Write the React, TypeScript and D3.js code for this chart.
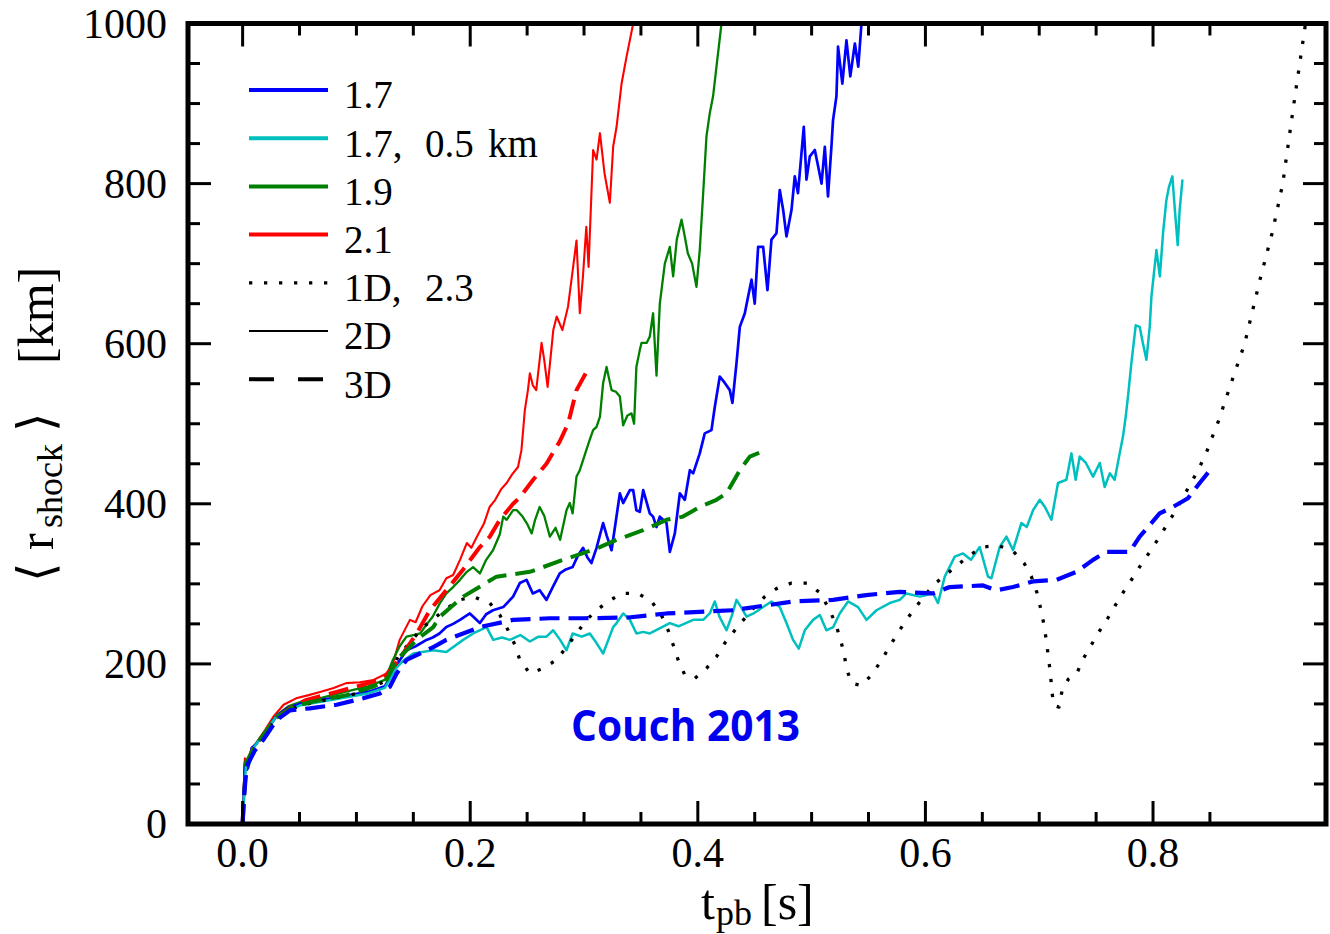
import React from 'react';
import * as d3 from 'd3';

type P = [number, number];

// ---------- axis ticks ----------
const xTicksMajor = [0, 0.2, 0.4, 0.6, 0.8];
const xTickLabels = ['0.0', '0.2', '0.4', '0.6', '0.8'];
const xTicksMinor = [0.05, 0.1, 0.15, 0.25, 0.3, 0.35, 0.45, 0.5, 0.55, 0.65, 0.7, 0.75, 0.85];
const yTicksMajor = [0, 200, 400, 600, 800, 1000];
const yTickLabels = ['0', '200', '400', '600', '800', '1000'];
const yTicksMinor = [50, 100, 150, 250, 300, 350, 450, 500, 550, 650, 700, 750, 850, 900, 950];

// ---------- series (t [s], r [km]) ----------
const red2D: P[] = [
  [0, 0], [0.001, 40], [0.002, 82], [0.005, 72], [0.008, 95], [0.011, 99], [0.02, 118], [0.027, 134],
  [0.036, 149], [0.047, 157], [0.058, 161], [0.068, 165], [0.08, 170], [0.091, 176], [0.103, 177],
  [0.115, 180], [0.1265, 188], [0.132, 200], [0.138, 230], [0.147, 255], [0.152, 252], [0.158, 272],
  [0.165, 286], [0.173, 292], [0.179, 307], [0.185, 311], [0.191, 330], [0.197, 351], [0.201, 345],
  [0.207, 362], [0.212, 375], [0.217, 396], [0.222, 405], [0.227, 418], [0.232, 426], [0.237, 437],
  [0.242, 446], [0.245, 467], [0.248, 517], [0.2507, 542], [0.2524, 563], [0.255, 548], [0.258, 542],
  [0.2627, 601], [0.265, 580], [0.268, 546], [0.273, 617], [0.276, 634], [0.281, 617], [0.2859, 646],
  [0.289, 680], [0.2934, 729], [0.2963, 638], [0.299, 683], [0.302, 746], [0.304, 696], [0.308, 842],
  [0.311, 830], [0.314, 863], [0.318, 813], [0.3227, 776], [0.3256, 846], [0.3286, 871], [0.333, 925],
  [0.3373, 958], [0.3432, 1000], [0.346, 1020],
];

const green2D: P[] = [
  [0, 0], [0.001, 30], [0.002, 78], [0.005, 70], [0.01, 97], [0.02, 117], [0.03, 136], [0.04, 147],
  [0.05, 152], [0.07, 158], [0.09, 165], [0.11, 172], [0.125, 180], [0.132, 205], [0.138, 222],
  [0.144, 234], [0.15, 236], [0.156, 238], [0.162, 250], [0.167, 259], [0.173, 275], [0.179, 288],
  [0.185, 296], [0.191, 305], [0.197, 315], [0.2025, 321], [0.2085, 313], [0.214, 330], [0.22, 342],
  [0.226, 362], [0.229, 384], [0.232, 380], [0.2377, 392], [0.241, 392], [0.246, 384], [0.25, 375],
  [0.254, 363], [0.257, 380], [0.261, 396], [0.265, 385], [0.27, 359], [0.275, 370], [0.279, 355],
  [0.2846, 392], [0.2875, 401], [0.29, 388], [0.2934, 434], [0.2963, 442], [0.302, 467], [0.305, 480],
  [0.308, 492], [0.311, 496], [0.314, 509], [0.3168, 551], [0.3198, 571], [0.3242, 542], [0.328, 540],
  [0.3315, 534], [0.3344, 498], [0.338, 510], [0.3417, 513], [0.344, 500], [0.346, 571], [0.349, 592],
  [0.3505, 601], [0.355, 601], [0.3578, 609], [0.3607, 638], [0.3637, 560], [0.3666, 650], [0.371, 700],
  [0.3754, 721], [0.3783, 684], [0.3815, 730], [0.3857, 755], [0.388, 738], [0.3912, 713], [0.395, 700],
  [0.3988, 671], [0.4017, 717], [0.4047, 788], [0.4076, 859], [0.4105, 888], [0.4134, 909],
  [0.4164, 946], [0.4208, 1000], [0.423, 1020],
];

const blue2D: P[] = [
  [0, 0], [0.001, 30], [0.002, 75], [0.004, 68], [0.008, 95], [0.012, 100], [0.02, 115], [0.03, 135],
  [0.04, 145], [0.05, 150], [0.07, 155], [0.09, 160], [0.11, 165], [0.125, 172], [0.13, 185], [0.135, 198],
  [0.144, 217], [0.152, 222], [0.1616, 230], [0.167, 233], [0.173, 238], [0.179, 246], [0.185, 250],
  [0.191, 255], [0.1997, 263], [0.2085, 251], [0.214, 262], [0.22, 267], [0.229, 271], [0.2377, 284],
  [0.2436, 301], [0.2495, 305], [0.255, 288], [0.261, 292], [0.267, 280], [0.2725, 296], [0.2787, 313],
  [0.284, 318], [0.29, 321], [0.2945, 335], [0.2992, 345], [0.303, 333], [0.3065, 326], [0.311, 345],
  [0.3168, 376], [0.32, 360], [0.3242, 342], [0.3315, 413], [0.3344, 401], [0.3403, 417], [0.3432, 417],
  [0.346, 392], [0.349, 390], [0.352, 417], [0.3578, 388], [0.3607, 384], [0.3637, 371], [0.3666, 384],
  [0.3725, 376], [0.3754, 340], [0.3798, 363], [0.3842, 413], [0.3886, 405], [0.393, 442], [0.3959, 438],
  [0.4017, 463], [0.4061, 488], [0.412, 492], [0.4149, 521], [0.4193, 559], [0.4237, 551], [0.4281, 542],
  [0.4304, 526], [0.434, 576], [0.4369, 621], [0.4413, 638], [0.4442, 659], [0.4472, 680], [0.45, 650],
  [0.453, 721], [0.4574, 721], [0.4612, 667], [0.4647, 730], [0.4691, 738], [0.472, 792], [0.475, 767],
  [0.4779, 734], [0.4823, 767], [0.4852, 809], [0.488, 788], [0.4911, 838], [0.4931, 871], [0.4955, 805],
  [0.4984, 834], [0.5028, 842], [0.5058, 821], [0.5087, 800], [0.5116, 846], [0.5144, 784], [0.5174, 846],
  [0.5188, 879], [0.5218, 909], [0.5232, 971], [0.527, 925], [0.5306, 979], [0.534, 934], [0.538, 975],
  [0.541, 946], [0.5438, 1000], [0.546, 1020],
];

const cyan2D: P[] = [
  [0, 0], [0.001, 30], [0.003, 75], [0.01, 96], [0.03, 135], [0.05, 148], [0.07, 153], [0.09, 158],
  [0.11, 163], [0.125, 170], [0.135, 195], [0.142, 205], [0.15, 213], [0.1675, 217], [0.179, 215],
  [0.1938, 230], [0.2026, 238], [0.2144, 246], [0.2202, 230], [0.228, 233], [0.2348, 230], [0.244, 236],
  [0.2524, 228], [0.26, 234], [0.267, 234], [0.2729, 242], [0.279, 230], [0.2846, 217], [0.29, 238],
  [0.298, 234], [0.3051, 238], [0.311, 226], [0.3168, 213], [0.3256, 246], [0.3286, 251], [0.3344, 263],
  [0.3403, 255], [0.3461, 238], [0.352, 240], [0.3578, 238], [0.366, 244], [0.3754, 251], [0.383, 247],
  [0.3959, 255], [0.4047, 255], [0.4105, 263], [0.4149, 278], [0.419, 259], [0.4252, 242], [0.4296, 259],
  [0.434, 280], [0.438, 271], [0.4428, 259], [0.449, 263], [0.4574, 271], [0.4647, 278], [0.472, 271],
  [0.4779, 251], [0.4837, 230], [0.4887, 219], [0.494, 242], [0.5013, 255], [0.5072, 261], [0.513, 242],
  [0.519, 246], [0.5247, 263], [0.532, 278], [0.5408, 271], [0.5482, 255], [0.557, 267], [0.5686, 276],
  [0.5774, 280], [0.5833, 288], [0.595, 284], [0.6067, 288], [0.6111, 276], [0.617, 309], [0.6258, 334],
  [0.633, 338], [0.64, 330], [0.6477, 346], [0.655, 309], [0.658, 307], [0.6653, 346], [0.6712, 359],
  [0.677, 342], [0.6843, 376], [0.689, 371], [0.6946, 392], [0.7004, 405], [0.705, 396], [0.7107, 380],
  [0.7165, 426], [0.7239, 430], [0.7283, 463], [0.732, 430], [0.7356, 459], [0.741, 451], [0.7473, 434],
  [0.7532, 451], [0.7575, 421], [0.762, 438], [0.7663, 430], [0.7707, 463], [0.7736, 484], [0.776, 509],
  [0.778, 534], [0.781, 576], [0.7848, 623], [0.7883, 621], [0.7912, 600], [0.7942, 580], [0.7971, 621],
  [0.7986, 659], [0.803, 717], [0.806, 684], [0.8088, 738], [0.8117, 779], [0.814, 796], [0.817, 809],
  [0.819, 771], [0.8217, 723], [0.8234, 767], [0.8258, 804],
];

const dotted1D: P[] = [
  [0, 0], [0.001, 30], [0.003, 75], [0.01, 95], [0.03, 133], [0.05, 148], [0.1, 163], [0.125, 178],
  [0.135, 205], [0.141, 217], [0.1587, 246], [0.179, 269], [0.191, 280], [0.2026, 284], [0.2172, 276],
  [0.226, 261], [0.2333, 242], [0.2392, 224], [0.2436, 205], [0.2524, 188], [0.2641, 194.5], [0.2758, 205],
  [0.2846, 221], [0.2934, 238], [0.3022, 255], [0.311, 267], [0.3212, 278], [0.333, 288], [0.3475, 288],
  [0.3593, 278], [0.368, 261], [0.3739, 242], [0.3783, 224], [0.3827, 205], [0.3886, 186], [0.3974, 182],
  [0.4076, 194.5], [0.4164, 209], [0.4237, 226], [0.4325, 242], [0.4413, 257], [0.4486, 269], [0.4589, 284],
  [0.4691, 294], [0.4823, 301], [0.496, 301], [0.5072, 289], [0.5144, 271], [0.5203, 253], [0.5247, 234],
  [0.5285, 213], [0.5306, 194.5], [0.535, 176], [0.5438, 173], [0.5526, 186], [0.5607, 203], [0.5678, 220],
  [0.5754, 238], [0.5833, 255], [0.5915, 271], [0.6009, 288], [0.609, 301], [0.6185, 312], [0.639, 336],
  [0.6506, 346], [0.6638, 348], [0.677, 341], [0.6866, 326], [0.6931, 309], [0.698, 289], [0.7013, 269],
  [0.704, 250], [0.7063, 229], [0.708, 209], [0.7098, 189], [0.711, 168], [0.7127, 148], [0.7174, 146],
  [0.72, 166], [0.7256, 181], [0.7327, 187], [0.7385, 206], [0.7455, 223], [0.7525, 240], [0.7602, 257],
  [0.7672, 274], [0.7745, 291], [0.7824, 308], [0.7903, 326], [0.7982, 342], [0.8058, 359], [0.8132, 376],
  [0.8205, 393], [0.8275, 411], [0.8342, 428], [0.841, 446], [0.8469, 464], [0.8522, 484], [0.8574, 503],
  [0.868, 548], [0.8805, 600], [0.894, 680], [0.905, 740], [0.914, 800], [0.9236, 898], [0.934, 1000],
  [0.937, 1030],
];

const red3D: P[] = [
  [0, 0], [0.001, 30], [0.003, 75], [0.01, 96], [0.03, 133], [0.045, 148], [0.0562, 155], [0.0826, 165],
  [0.106, 174], [0.1235, 182], [0.1323, 196], [0.141, 213], [0.1529, 238], [0.1645, 267], [0.179, 292],
  [0.1938, 318], [0.2085, 346], [0.2172, 359], [0.226, 380], [0.2377, 400], [0.2436, 408], [0.2553, 430],
  [0.267, 450], [0.2787, 478], [0.286, 500], [0.2934, 542], [0.3034, 568],
];

const green3D: P[] = [
  [0, 0], [0.001, 30], [0.003, 75], [0.01, 96], [0.03, 133], [0.045, 147], [0.062, 153], [0.0914, 161],
  [0.1147, 171.5], [0.1265, 180], [0.1353, 205], [0.144, 217], [0.1529, 230], [0.1675, 246], [0.1733, 259],
  [0.1938, 284], [0.2231, 309], [0.2524, 315], [0.2817, 330], [0.311, 344], [0.3286, 355], [0.352, 367],
  [0.3725, 380], [0.387, 384], [0.4017, 396], [0.4164, 405], [0.4252, 413], [0.4369, 442], [0.4457, 459],
  [0.456, 465],
];

const blue3D: P[] = [
  [0, 0], [0.001, 30], [0.0035, 72], [0.0108, 92], [0.018, 105], [0.03, 130], [0.0416, 142], [0.059, 144.5],
  [0.0826, 149], [0.106, 157], [0.1206, 163], [0.1294, 171.5], [0.1353, 188], [0.144, 205], [0.1558, 213],
  [0.1675, 221], [0.179, 230], [0.1938, 238], [0.2085, 246], [0.2377, 255], [0.27, 257], [0.3, 257],
  [0.3388, 258], [0.3725, 263], [0.431, 267], [0.4837, 278], [0.5188, 280], [0.548, 286], [0.5774, 290],
  [0.6067, 288], [0.6214, 296], [0.6506, 298], [0.6624, 292], [0.677, 296], [0.6946, 303], [0.7151, 305],
  [0.7327, 315], [0.7473, 330], [0.759, 340], [0.7795, 340], [0.7883, 359], [0.8058, 388], [0.8175, 396],
  [0.8307, 407], [0.841, 426], [0.8513, 444],
];

// legend label pieces (math-mode spacing is wide, so each piece is placed separately)
const legendLabels: string[][] = [['1.7'], ['1.7,', '0.5', 'km'], ['1.9'], ['2.1'], ['1D,', '2.3'], ['2D'], ['3D']];
const legendPieceX = [344, 425, 488];

// ---------- layout ----------
const W = 1330;
const H = 934;
const L = 188, R = 1326, T = 23.5, B = 824;
const SERIF = '"Liberation Serif", "DejaVu Serif", serif';

const x = d3.scaleLinear().domain([-0.048, 0.952]).range([L, R]);
const y = d3.scaleLinear().domain([0, 1000]).range([B, T]);
const line = d3.line<P>().x((d) => x(d[0])).y((d) => y(d[1]));

const DASH3D = '20,9';
const DOT1D = '3.3,11.7';

const seriesDefs = [
  { data: red2D, color: '#ff0000', w: 2.1, dash: undefined as string | undefined },
  { data: green2D, color: '#008000', w: 2.3, dash: undefined },
  { data: blue2D, color: '#0000ff', w: 2.7, dash: undefined },
  { data: cyan2D, color: '#00bfbf', w: 2.5, dash: undefined },
  { data: dotted1D, color: '#000000', w: 3.3, dash: DOT1D },
  { data: red3D, color: '#ff0000', w: 4, dash: DASH3D },
  { data: green3D, color: '#008000', w: 4, dash: DASH3D },
  { data: blue3D, color: '#0000ff', w: 4.2, dash: DASH3D },
];

const legendDefs = [
  { color: '#0000ff', w: 4, dash: undefined as string | undefined },
  { color: '#00bfbf', w: 4, dash: undefined },
  { color: '#008000', w: 4, dash: undefined },
  { color: '#ff0000', w: 4, dash: undefined },
  { color: '#000000', w: 3.3, dash: '3.3,11.7' },
  { color: '#000000', w: 2, dash: undefined },
  { color: '#000000', w: 4, dash: '25,24' },
];

export default function App() {
  const majLen = 23;
  const minLen = 12;
  const legX0 = 249, legX1 = 328, legY0 = 90, legDy = 48.2;
  const AX = 50; // axis label font size
  const SUB = 36;
  return (
    <svg
      width={W}
      height={H}
      viewBox={`0 0 ${W} ${H}`}
      style={{ position: 'absolute', left: 0, top: 0, background: '#fff' }}
    >
      <defs>
        <clipPath id="plotclip">
          <rect x={L} y={T} width={R - L} height={B - T} />
        </clipPath>
      </defs>
      <rect x={0} y={0} width={W} height={H} fill="#fff" />

      {/* series */}
      <g clipPath="url(#plotclip)">
        {seriesDefs.map((s, i) => (
          <path
            key={i}
            d={line(s.data) || ''}
            fill="none"
            stroke={s.color}
            strokeWidth={s.w}
            strokeDasharray={s.dash}
            strokeLinejoin="round"
            strokeLinecap={s.dash ? 'butt' : 'round'}
          />
        ))}
      </g>

      {/* ticks */}
      <g stroke="#000" strokeWidth={3}>
        {xTicksMajor.map((t) => (
          <g key={'xM' + t}>
            <line x1={x(t)} x2={x(t)} y1={B} y2={B - majLen} />
            <line x1={x(t)} x2={x(t)} y1={T} y2={T + majLen} />
          </g>
        ))}
        {xTicksMinor.map((t) => (
          <g key={'xm' + t}>
            <line x1={x(t)} x2={x(t)} y1={B} y2={B - minLen} />
            <line x1={x(t)} x2={x(t)} y1={T} y2={T + minLen} />
          </g>
        ))}
        {yTicksMajor.map((v) => (
          <g key={'yM' + v}>
            <line x1={L} x2={L + majLen} y1={y(v)} y2={y(v)} />
            <line x1={R} x2={R - majLen} y1={y(v)} y2={y(v)} />
          </g>
        ))}
        {yTicksMinor.map((v) => (
          <g key={'ym' + v}>
            <line x1={L} x2={L + minLen} y1={y(v)} y2={y(v)} />
            <line x1={R} x2={R - minLen} y1={y(v)} y2={y(v)} />
          </g>
        ))}
      </g>

      {/* frame */}
      <rect x={L} y={T} width={R - L} height={B - T} fill="none" stroke="#000" strokeWidth={5} />

      {/* tick labels */}
      <g fontFamily={SERIF} fontSize={42} fill="#000">
        {xTicksMajor.map((t, i) => (
          <text key={'xl' + t} x={x(t)} y={867} textAnchor="middle">
            {xTickLabels[i]}
          </text>
        ))}
        {yTicksMajor.map((v, i) => (
          <text key={'yl' + v} x={167} y={y(v) + 14} textAnchor="end">
            {yTickLabels[i]}
          </text>
        ))}
      </g>

      {/* x axis label: t_pb [s] */}
      <g fontFamily={SERIF} fill="#000">
        <text x={701} y={919} fontSize={AX}>t</text>
        <text x={716} y={925} fontSize={SUB}>pb</text>
        <text x={761} y={919} fontSize={AX}>[s]</text>
      </g>

      {/* y axis label: <r_shock> [km] */}
      <g transform={`translate(53,592) rotate(-90)`} fontFamily={SERIF} fill="#000">
        <text x={10} y={0} fontSize={AX}>⟨</text>
        <text x={42} y={0} fontSize={AX}>r</text>
        <text x={64} y={9} fontSize={SUB}>shock</text>
        <text x={160} y={0} fontSize={AX}>⟩</text>
        <text x={228} y={0} fontSize={AX}>[km]</text>
      </g>

      {/* legend */}
      <g>
        {legendDefs.map((l, i) => (
          <g key={'lg' + i}>
            <line
              x1={legX0}
              x2={legX1}
              y1={legY0 + i * legDy}
              y2={legY0 + i * legDy}
              stroke={l.color}
              strokeWidth={l.w}
              strokeDasharray={l.dash}
            />
            {legendLabels[i].map((piece, j) => (
              <text
                key={j}
                x={legendPieceX[j]}
                y={legY0 + i * legDy + 18.3}
                fontFamily={SERIF}
                fontSize={39}
                fill="#000"
              >
                {piece}
              </text>
            ))}
          </g>
        ))}
      </g>

      {/* annotation */}
      <text
        x={571}
        y={741}
        fontFamily='"Open Sans", "Noto Sans", sans-serif'
        fontWeight={700}
        fontSize={43}
        fill="#0000ee"
        textLength={229}
        lengthAdjust="spacingAndGlyphs"
      >
        Couch 2013
      </text>
    </svg>
  );
}
